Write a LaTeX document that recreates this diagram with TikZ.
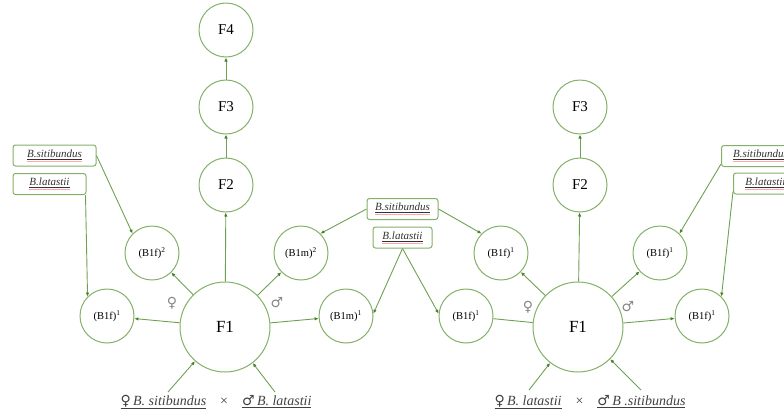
\documentclass[tikz,border=0pt]{standalone}
\usepackage{fontspec}
\setmainfont{Liberation Serif}
\newfontfamily\gendersym{DejaVu Sans}
\usepackage{xcolor}
\usepackage{tikz}
\usetikzlibrary{shapes}
\usetikzlibrary{arrows.meta}
\usetikzlibrary{positioning}

\definecolor{ringgreen}{RGB}{132,176,104}
\definecolor{linegreen}{RGB}{110,162,82}
\definecolor{tipgreen}{RGB}{72,128,42}
\definecolor{sexgray}{RGB}{135,135,135}

% species name: underlined, with the red spell-check line below
\newcommand{\spname}[1]{{\color{red!35}\underline{{\color{black!80}\underline{\textit{#1}}}}}}

\begin{document}
\begin{tikzpicture} [x=1pt, y=-1pt,
            % ----- Node definitions ----- %
            gennode/.style = {
                draw=ringgreen,
                circle,
                line width=1pt,
                fill=white,
                inner sep=0pt,
                minimum size=#1,
                font=\fontsize{15}{15}\selectfont
            },
            backnode/.style = {
                draw=ringgreen,
                circle,
                line width=1pt,
                fill=white,
                inner sep=0pt,
                minimum size=54pt,
                font=\fontsize{10.5}{11}\selectfont
            },
            speciesnode/.style = {
                draw=ringgreen,
                rectangle,
                rounded corners=2.5pt,
                line width=1pt,
                fill=white,
                inner sep=1pt,
                minimum height=21pt,
                minimum width=#1,
                font=\fontsize{11}{12}\selectfont
            },
            sexnode/.style = {
                text=sexgray,
                font=\gendersym\fontsize{14}{14}\selectfont
            },
            crossnode/.style = {
                text=black!75,
                font=\fontsize{14}{16}\selectfont
            },
            link/.style = {
                draw=linegreen,
                line width=0.9pt,
                -{Latex[length=4pt,width=3.5pt,color=tipgreen]}
            },
            plainlink/.style = {
                draw=linegreen,
                line width=0.9pt
            },
    ]
    \useasboundingbox (0,0) rectangle (784,416);
    \clip (0,0) rectangle (784,416);

            % ----- Left cross ----- %
        \node [gennode=90pt, font=\fontsize{17}{17}\selectfont] (f1L) at (225,327) {F1};
        \node [gennode=54pt] (f2L) at (226,185) {F2};
        \node [gennode=54pt, above=23pt of f2L] (f3L) {F3};
        \node [gennode=54pt, above=22pt of f3L] (f4L) {F4};

        \node [backnode] (b1f2L) at (152,253) {(B1f)\textsuperscript{2}};
        \node [backnode] (b1m2L) at (301,253) {(B1m)\textsuperscript{2}};
        \node [backnode] (b1f1L) at (107,316) {(B1f)\textsuperscript{1}};
        \node [backnode] (b1m1L) at (346,316) {(B1m)\textsuperscript{1}};

        \node [speciesnode=83pt] (sitL) at (54.5,155.5) {\spname{B.sitibundus}};
        \node [speciesnode=73pt] (latL) at (49.5,184) {\spname{B.latastii}};

        \node [sexnode] (femL) at (172,303) {♀};
        \node [sexnode] (malL) at (277,303) {♂};

        \node [crossnode] (crossL) at (216,402) {\underline{{\gendersym ♀}\,\textit{B. sitibundus}}\quad ×\quad\underline{{\gendersym ♂}\,\textit{B. latastii}}};
        \coordinate (inLa) at (168,392);
        \coordinate (inLb) at (275,392);

            % ----- Shared back-cross boxes ----- %
        \node [speciesnode=71pt] (sitM) at (402.5,209) {\spname{B.sitibundus}};
        \node [speciesnode=59pt] (latM) at (402.5,237.5) {\spname{B.latastii}};

            % ----- Right cross ----- %
        \node [gennode=90pt, font=\fontsize{17}{17}\selectfont] (f1R) at (578,327) {F1};
        \node [gennode=54pt] (f2R) at (580,185) {F2};
        \node [gennode=54pt, above=23pt of f2R] (f3R) {F3};

        \node [backnode] (b1fuR) at (501,253) {(B1f)\textsuperscript{1}};
        \node [backnode] (b1fvR) at (660,253) {(B1f)\textsuperscript{1}};
        \node [backnode] (b1faR) at (466,316) {(B1f)\textsuperscript{1}};
        \node [backnode] (b1fbR) at (702,316) {(B1f)\textsuperscript{1}};

        \node [speciesnode=78pt, anchor=west] (sitR) at (721,156) {\spname{B.sitibundus}};
        \node [speciesnode=64pt, anchor=west] (latR) at (733,183.5) {\spname{B.latastii}};

        \node [sexnode] (femR) at (528,307) {♀};
        \node [sexnode] (malR) at (628,307) {♂};

        \node [crossnode] (crossR) at (590,402) {\underline{{\gendersym ♀}\,\textit{B. latastii}}\quad ×\quad\underline{{\gendersym ♂}\,\textit{B .sitibundus}}};
        \coordinate (inRa) at (529,390);
        \coordinate (inRb) at (641,390);

            % ----- Connectors ----- %
        \draw [link] (f1L) -- (f2L);
        \draw [link] (f2L) -- (f3L);
        \draw [link] (f3L) -- (f4L);
        \draw [link] (f1L) -- (b1f2L);
        \draw [link] (f1L) -- (b1m2L);
        \draw [link] (f1L) -- (b1f1L);
        \draw [link] (f1L) -- (b1m1L);
        \draw [link] (inLa) -- (f1L);
        \draw [link] (inLb) -- (f1L);
        \draw [link] (sitL.east) -- (b1f2L.135);
        \draw [link] ([xshift=-1pt]latL.south east) -- (b1f1L.135);

        \draw [link] (sitM.west) -- (b1m2L.45);
        \draw [link] (sitM.east) -- (b1fuR.135);
        \draw [link] (latM.south) -- (b1m1L.5);
        \draw [link] (latM.south) -- (b1faR.175);

        \draw [link] (f1R) -- (f2R);
        \draw [link] (f2R) -- (f3R);
        \draw [link] (f1R) -- (b1fuR);
        \draw [link] (f1R) -- (b1fvR);
        \draw [link] (f1R) -- (b1fbR);
        \draw [plainlink] (f1R) -- (b1faR);
        \draw [link] (inRa) -- (f1R);
        \draw [link] (inRb) -- (f1R);
        \draw [link] ([yshift=3pt]sitR.south west) -- (b1fvR.45);
        \draw [link] ([yshift=3pt]latR.south west) -- (b1fbR.45);
          
\end{tikzpicture}
\end{document}
